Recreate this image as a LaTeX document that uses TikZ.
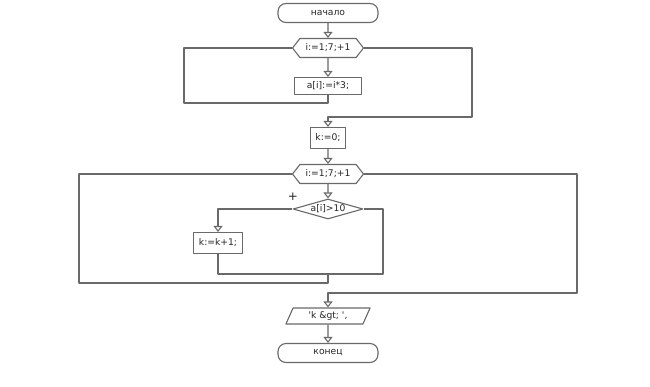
\documentclass[tikz,border=0pt]{standalone}
\usepackage{fontspec}
\newfontfamily\flfont{DejaVu Sans}
\usetikzlibrary{arrows.meta,shapes.geometric,shapes.symbols}
\definecolor{lineg}{RGB}{105,105,105}
\tikzset{
  term/.style={draw, rounded corners=8pt, minimum width=100pt, minimum height=19pt, inner sep=0pt},
  loopbox/.style={draw, signal, signal to=east and west, signal pointer angle=104,
    minimum width=71pt, minimum height=19pt, inner sep=0pt},
  proc/.style={draw, minimum height=19pt, inner xsep=3pt, inner ysep=0pt},
  cond/.style={draw, diamond, aspect=3.5, minimum width=70pt, minimum height=20pt, inner sep=0pt},
  io/.style={draw, trapezium, trapezium left angle=66, trapezium right angle=114,
    minimum width=68pt, minimum height=16pt, inner sep=0pt},
  arr/.style={-{Triangle[open, length=6pt, width=9pt]}}
}
\begin{document}
\begin{tikzpicture}[x=1pt, y=-1pt, line join=round, draw=lineg, text=black!85,
    line width=1.1pt, font=\flfont\fontsize{9.2}{10}\selectfont]
  \useasboundingbox (0,0) rectangle (650,386);
  % Блоки
  \node[term] (start) at (328,13) {начало};
  \node[loopbox] (for1) at (328,48) {i:=1;7;+1};
  \node[proc, minimum width=67pt, minimum height=17pt] (body1) at (328,86) {a[i]:=i*3;};
  \node[proc, minimum width=35pt, minimum height=21pt] (k0) at (328,138) {k:=0;};
  \node[loopbox] (for2) at (328,174) {i:=1;7;+1};
  \node[cond] (test) at (328,209) {a[i]>10};
  \node[proc, minimum width=49pt, minimum height=21pt] (inc) at (218,243) {k:=k+1;};
  \node[io] (out) at (328,316) {'k \&gt; ',};
  \node[term] (stop) at (328,353) {конец};
  \node[font=\flfont\fontsize{12}{12}\selectfont] (plus) at (293,197) {+};

  % Точки излома
  \coordinate (l1) at (184,103);
  \coordinate (r1) at (472,117);
  \coordinate (j1) at (383,274);
  \coordinate (m1) at (328,274);
  \coordinate (l2) at (79,283);
  \coordinate (r2) at (577,293);

  % Первый цикл
  \draw[arr] (start) -- (for1);
  \draw[arr] (for1) -- (body1);
  \draw (body1.south) |- (l1) |- (for1.west);
  \draw[arr] (for1.east) -| (r1) -| (k0.north);

  % Второй цикл
  \draw[arr] (k0) -- (for2);
  \draw[arr] (for2) -- (test);
  \draw[arr] (test.west) -| (inc.north);
  \draw (inc.south) |- (j1) |- (test.east);
  \draw (m1) |- (l2) |- (for2.west);
  \draw[arr] (for2.east) -| (r2) -| (out.north);

  % Вывод
  \draw[arr] (out) -- (stop);
\end{tikzpicture}
\end{document}
